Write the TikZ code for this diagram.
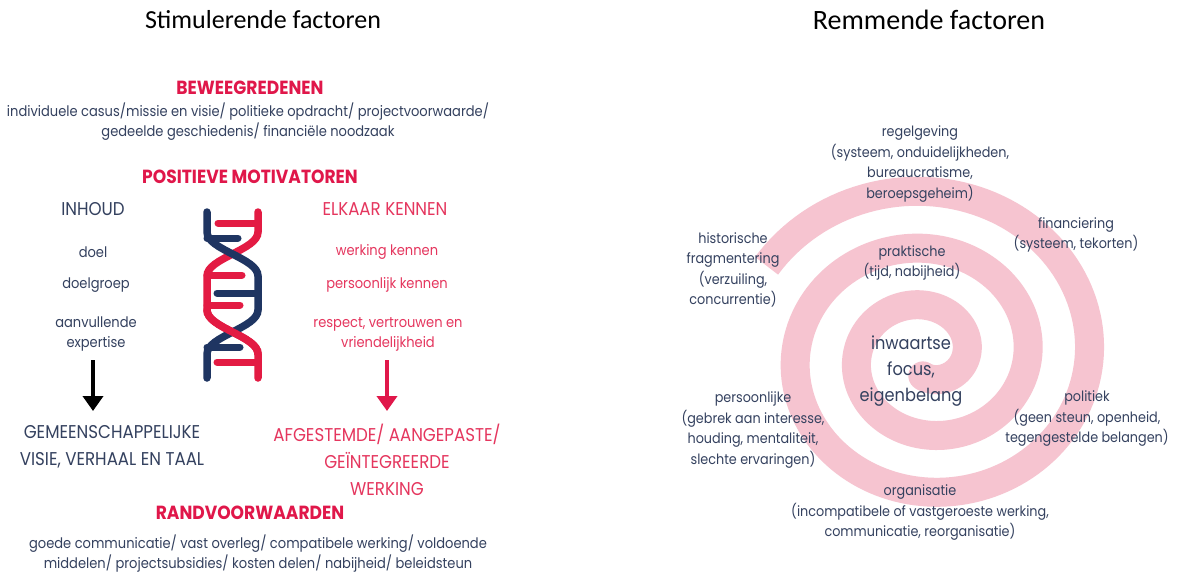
\documentclass[tikz,border=0pt]{standalone}
\usepackage{fontspec}
\setmainfont{Poppins}[FakeStretch=0.9]
\newfontfamily\titlefont{Carlito}
\usetikzlibrary{arrows.meta}
\definecolor{navytxt}{HTML}{34415F}
\definecolor{redtxt}{HTML}{E5365E}
\definecolor{headred}{HTML}{E0174A}
\definecolor{dnanavy}{HTML}{1F3562}
\definecolor{dnared}{HTML}{E31B43}
\definecolor{spiralpink}{HTML}{F6C4D0}
\begin{document}
\begin{tikzpicture}[x=1pt,y=-1pt,
  title/.style={font=\titlefont\fontsize{26}{30}\selectfont, text=black, inner sep=0},
  heading/.style={font=\fontsize{19}{22}\selectfont\bfseries, text=headred, inner sep=0},
  small/.style={font=\fontsize{14.5}{20}\selectfont, text=navytxt, align=center, inner sep=0},
  smallred/.style={small, text=redtxt},
  spir/.style={font=\fontsize{14.2}{20.5}\selectfont, text=navytxt, align=center, inner sep=0},
  capsn/.style={font=\fontsize{18.5}{27}\selectfont, text=navytxt, align=center, inner sep=0},
  capsr/.style={capsn, text=redtxt},
  center/.style={font=\fontsize{18}{26}\selectfont, text=navytxt, align=center, inner sep=0},
  strand/.style={line width=7.5pt, line cap=round},
  rung/.style={line width=7pt, line cap=round},
  bigarrow/.style={line width=4pt, -{Triangle[width=20pt,length=15pt]}}
]
\useasboundingbox (0,0) rectangle (1178,573);
\fill[white] (0,0) rectangle (1178,573);

% ---------- spiral ----------
\draw[spiralpink, line width=29pt, line cap=butt, domain=-1.025:15.9, samples=400, variable=\t]
  plot ({927 + 1.08*(164.5-9.072*\t)*sin(\t r)}, {356 - (164.5-9.072*\t)*cos(\t r)});
\fill[spiralpink] ({927 + 1.08*(164.5-9.072*15.9)*sin(15.9 r)}, {356 - (164.5-9.072*15.9)*cos(15.9 r)}) circle (14.5);

% ---------- titles ----------
\node[title] (t1) at (263,20) {Stimulerende factoren};
\node[title, font=\titlefont\fontsize{28}{32}\selectfont] (t2) at (929,20) {Remmende factoren};

% ---------- left side ----------
\node[heading] (h1) at (250,88) {BEWEEGREDENEN};
\node[small] (b1) at (248,122) {individuele casus/missie en visie/ politieke opdracht/ projectvoorwaarde/\\gedeelde geschiedenis/ financiële noodzaak};
\node[heading] (h2) at (250,177) {POSITIEVE MOTIVATOREN};
\node[capsn] (inh) at (93,209) {INHOUD};
\node[capsr] (elk) at (385,209) {ELKAAR KENNEN};
\node[small] (doel) at (93,252) {doel};
\node[small] (dg) at (96,285) {doelgroep};
\node[small] (av) at (96,334) {aanvullende\\expertise};
\node[smallred] (wk) at (387,252) {werking kennen};
\node[smallred] (pk) at (387,285) {persoonlijk kennen};
\node[smallred] (rv) at (388,334) {respect, vertrouwen en\\vriendelijkheid};
\node[capsn] (gm) at (112,446.5) {GEMEENSCHAPPELIJKE\\VISIE, VERHAAL EN TAAL};
\node[capsr] (af) at (387,460) {AFGESTEMDE/ AANGEPASTE/\\GEÏNTEGREERDE\\WERKING};
\node[heading] (h3) at (250,513) {RANDVOORWAARDEN};
\node[small] (b3) at (258,554) {goede communicatie/ vast overleg/ compatibele werking/ voldoende\\middelen/ projectsubsidies/ kosten delen/ nabijheid/ beleidsteun};

% arrows
\coordinate (ab1) at (93,360); \coordinate (ab2) at (93,411);
\coordinate (ar1) at (387,360); \coordinate (ar2) at (387,411);
\draw[bigarrow, black] (ab1) -- (ab2);
\draw[bigarrow, headred] (ar1) -- (ar2);

% ---------- DNA ----------
\draw[strand, dnared] (258,212) -- (258,232) .. controls (258,250) and (207,258) .. (207,276) -- (207,310) .. controls (207,328) and (258,336) .. (258,354) -- (258,378);
\draw[strand, dnanavy] (207,212) -- (207,232) .. controls (207,250) and (258,258) .. (258,276) -- (258,310) .. controls (258,328) and (207,336) .. (207,354) -- (207,378);
\draw[strand, dnared] (207,310) .. controls (207,328) and (258,336) .. (258,354);
\draw[rung, dnared] (218,223) -- (258,223);
\draw[rung, dnared] (207,275) -- (242,275);
\draw[rung, dnared] (207,305) -- (240,305);
\draw[rung, dnared] (217,362) -- (258,362);
\draw[rung, dnanavy] (207,238) -- (238,238);
\draw[rung, dnanavy] (217,293) -- (258,293);
\draw[rung, dnanavy] (207,347) -- (240,347);

% ---------- right side texts ----------
\node[spir] (rg) at (920,164) {regelgeving\\(systeem, onduidelijkheden,\\bureaucratisme,\\beroepsgeheim)};
\node[spir] (fin) at (1076,235) {financiering\\(systeem, tekorten)};
\node[spir] (his) at (733,270) {historische\\fragmentering\\(verzuiling,\\concurrentie)};
\node[spir] (pr) at (912,263) {praktische\\(tijd, nabijheid)};
\node[center] (inw) at (911,371) {inwaartse\\focus,\\eigenbelang};
\node[spir] (pers) at (753,430) {persoonlijke\\(gebrek aan interesse,\\houding, mentaliteit,\\slechte ervaringen)};
\node[spir] (pol) at (1087,419) {politiek\\(geen steun, openheid,\\tegengestelde belangen)};
\node[spir] (org) at (920,513) {organisatie\\(incompatibele of vastgeroeste werking,\\communicatie, reorganisatie)};
\end{tikzpicture}
\end{document}
